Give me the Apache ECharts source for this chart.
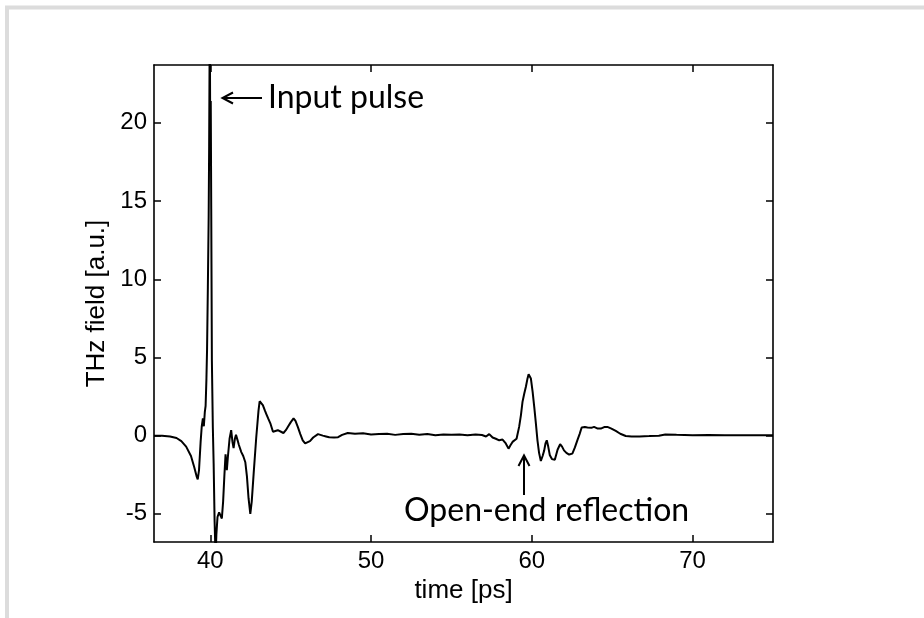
<!DOCTYPE html>
<html>
<head>
<meta charset="utf-8">
<script src="https://cdn.jsdelivr.net/npm/echarts@6/dist/echarts.min.js"></script>
<style>
html,body{margin:0;padding:0;background:#fff;}
#chart{width:924px;height:618px;}
</style>
</head>
<body>
<div id="chart"></div>
<script>
// time axis (ps)
const timePs = [36.5, 37.0, 37.5, 37.9, 38.2, 38.5, 38.8, 39.0, 39.15, 39.22, 39.3, 39.4, 39.47, 39.54, 39.6, 39.66, 39.71, 39.76, 39.8, 39.85, 39.9, 39.93, 39.97, 40.0, 40.03, 40.06, 40.1, 40.16, 40.21, 40.27, 40.33, 40.38, 40.45, 40.55, 40.65, 40.72, 40.8, 40.88, 40.95, 41.03, 41.1, 41.2, 41.3, 41.38, 41.45, 41.53, 41.6, 41.7, 41.78, 41.93, 42.05, 42.18, 42.28, 42.38, 42.49, 42.58, 42.7, 42.86, 43.0, 43.07, 43.15, 43.27, 43.4, 43.5, 43.6, 43.75, 43.9, 44.05, 44.2, 44.4, 44.55, 44.7, 44.85, 45.0, 45.18, 45.3, 45.45, 45.6, 45.75, 45.9, 46.0, 46.2, 46.4, 46.7, 47.0, 47.2, 47.4, 47.7, 47.95, 48.2, 48.55, 49.0, 49.5, 50.0, 50.5, 51.0, 51.5, 52.0, 52.5, 53.0, 53.5, 54.0, 54.5, 55.0, 55.5, 56.0, 56.5, 56.9, 57.15, 57.35, 57.56, 57.76, 57.97, 58.18, 58.38, 58.55, 58.68, 58.8, 59.05, 59.21, 59.32, 59.42, 59.53, 59.63, 59.72, 59.8, 59.87, 59.94, 60.05, 60.15, 60.25, 60.35, 60.45, 60.56, 60.67, 60.77, 60.85, 60.93, 61.02, 61.12, 61.25, 61.43, 61.6, 61.76, 61.88, 62.0, 62.15, 62.32, 62.52, 62.68, 62.83, 62.97, 63.1, 63.3, 63.46, 63.7, 63.87, 64.1, 64.29, 64.5, 64.7, 64.95, 65.22, 65.5, 65.84, 66.2, 66.7, 67.3, 67.9, 68.3, 69.0, 70.0, 71.0, 72.0, 73.0, 74.0, 75.0];
// THz field (a.u.)
const thzField = [0, 0, -0.05, -0.15, -0.35, -0.7, -1.3, -2.0, -2.6, -2.8, -2.2, -0.4, 0.6, 1.1, 0.6, 1.5, 1.9, 3.6, 5.5, 9.5, 14.0, 18.5, 27, 18.3, 21.4, 14.5, 4.8, 0.5, -1.8, -5.5, -7.8, -6.3, -5.2, -4.9, -5.0, -5.3, -4.2, -2.5, -1.2, -2.2, -1.3, -0.2, 0.35, -0.4, -0.8, -0.2, 0.05, -0.3, -0.6, -1.05, -1.3, -1.7, -2.6, -4.0, -5.0, -4.2, -2.4, -0.1, 1.6, 2.2, 2.15, 1.95, 1.6, 1.35, 1.1, 0.75, 0.25, 0.3, 0.35, 0.25, 0.17, 0.35, 0.6, 0.85, 1.1, 0.95, 0.55, 0.1, -0.3, -0.5, -0.55, -0.35, -0.12, 0.1, 0.0, -0.05, -0.1, -0.12, -0.1, 0.05, 0.17, 0.12, 0.15, 0.08, 0.1, 0.12, 0.05, 0.1, 0.12, 0.06, 0.1, 0.03, 0.08, 0.05, 0.07, 0.02, 0.08, 0.04, -0.05, 0.1, -0.12, -0.2, -0.3, -0.25, -0.5, -0.83, -0.6, -0.4, -0.2, 0.56, 1.3, 2.16, 2.7, 3.13, 3.6, 3.92, 3.85, 3.66, 2.8, 1.84, 0.8, -0.3, -1.1, -1.62, -1.3, -0.94, -0.5, -0.3, -0.7, -1.26, -1.5, -1.54, -0.9, -0.55, -0.7, -0.94, -1.1, -1.21, -1.15, -0.75, -0.3, 0.1, 0.52, 0.55, 0.52, 0.5, 0.56, 0.45, 0.45, 0.55, 0.56, 0.45, 0.3, 0.12, -0.02, -0.05, -0.05, -0.03, 0.0, 0.08, 0.05, 0.03, 0.04, 0.02, 0.03, 0.02, 0.02];
// tick positions
const xTicks = [40, 50, 60, 70];
const yTicks = [-5, 0, 5, 10, 15, 20];
const xRange = [36.5, 75];
const yRange = [-6.8, 23.7];
const xTitle = 'time [ps]';
const yTitle = 'THz field [a.u.]';
const noteInput = 'Input pulse';
const noteReflect = 'Open-end reflection';

const seriesData = timePs.map((t, i) => [t, thzField[i]]);

const tickFont = 'Liberation Sans, Arial, sans-serif';
const axisColor = '#000';

function xAxisDef(pos, withLabels) {
  return {
    type: 'value', position: pos, min: xRange[0], max: xRange[1],
    axisLine: { show: true, onZero: false, lineStyle: { color: axisColor, width: 1.6 } },
    axisTick: { show: true, inside: true, length: 7, customValues: xTicks, lineStyle: { color: axisColor, width: 1.5 } },
    axisLabel: withLabels ? { show: true, customValues: xTicks, fontSize: 24, color: '#000', fontFamily: tickFont, margin: 7 } : { show: false },
    splitLine: { show: false },
    name: withLabels ? xTitle : '',
    nameLocation: 'middle', nameGap: 28,
    nameTextStyle: { fontSize: 26, color: '#000', fontFamily: tickFont }
  };
}
function yAxisDef(pos, withLabels) {
  return {
    type: 'value', position: pos, min: yRange[0], max: yRange[1],
    axisLine: { show: true, onZero: false, lineStyle: { color: axisColor, width: 1.6 } },
    axisTick: { show: true, inside: true, length: 7, customValues: yTicks, lineStyle: { color: axisColor, width: 1.5 } },
    axisLabel: withLabels ? { show: true, customValues: yTicks, fontSize: 24, color: '#000', fontFamily: tickFont, margin: 7 } : { show: false },
    splitLine: { show: false },
    name: withLabels ? yTitle : '',
    nameLocation: 'middle', nameGap: 31, nameRotate: 90,
    nameTextStyle: { fontSize: 26, color: '#000', fontFamily: tickFont }
  };
}

const chart = echarts.init(document.getElementById('chart'), null, { renderer: 'canvas' });
chart.setOption({
  animation: false,
  backgroundColor: '#fff',
  grid: { left: 154, top: 65, right: 151, bottom: 76, containLabel: false, outerBoundsMode: 'none' },
  xAxis: [xAxisDef('bottom', true), xAxisDef('top', false)],
  yAxis: [yAxisDef('left', true), yAxisDef('right', false)],
  series: [{
    type: 'line', xAxisIndex: 0, yAxisIndex: 0, data: seriesData,
    showSymbol: false, symbol: 'none', clip: true,
    lineStyle: { color: '#000', width: 2 }
  }],
  graphic: [
    { type: 'rect', silent: true, shape: { x: 7, y: 7.5, width: 940, height: 640 }, style: { fill: 'none', stroke: '#dcdcdc', lineWidth: 4 } },
    { type: 'line', silent: true, shape: { x1: 262, y1: 98, x2: 223, y2: 98 }, style: { stroke: '#000', lineWidth: 2 } },
    { type: 'polyline', silent: true, shape: { points: [[233, 92.5], [222.5, 98], [233, 103.5]] }, style: { stroke: '#000', lineWidth: 2, fill: 'none' } },
    { type: 'text', silent: true, style: { text: noteInput, x: 268, y: 97.5, font: '32px Lato', fill: '#000', align: 'left', verticalAlign: 'middle' } },
    { type: 'line', silent: true, shape: { x1: 524, y1: 495, x2: 524, y2: 456 }, style: { stroke: '#000', lineWidth: 2 } },
    { type: 'polyline', silent: true, shape: { points: [[518.5, 466], [524, 455.5], [529.5, 466]] }, style: { stroke: '#000', lineWidth: 2, fill: 'none' } },
    { type: 'text', silent: true, style: { text: noteReflect, x: 404, y: 511, font: '32px Lato', fill: '#000', align: 'left', verticalAlign: 'middle' } }
  ]
});
</script>
</body>
</html>
